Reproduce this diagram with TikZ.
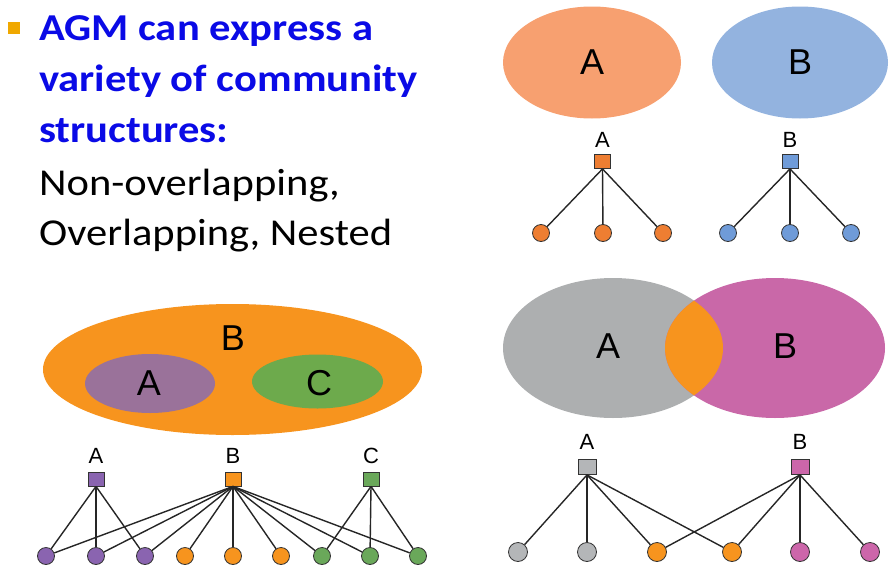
\documentclass[tikz,border=0pt]{standalone}
\usepackage{fontspec}
\setmainfont{Carlito}
\newfontfamily\lab{Liberation Sans}
\definecolor{txtblue}{HTML}{0A0AE6}
\definecolor{bullet}{HTML}{F0A800}
\definecolor{salmon}{HTML}{F7A070}
\definecolor{lblue}{HTML}{93B3DF}
\definecolor{nodeor}{HTML}{EE7E32}
\definecolor{nodebl}{HTML}{6F9BD8}
\definecolor{bigor}{HTML}{F7941E}
\definecolor{mauve}{HTML}{9A729A}
\definecolor{lgreen}{HTML}{6DAA4C}
\definecolor{npurple}{HTML}{8A64B0}
\definecolor{ngreen}{HTML}{6AA85A}
\definecolor{lgray}{HTML}{ADAFB0}
\definecolor{magenta}{HTML}{C968A8}
\definecolor{ngray}{HTML}{B4B6B8}
\definecolor{nmag}{HTML}{CC66AA}
\newcommand{\wide}[1]{\scalebox{1.12}[1]{#1}}
\begin{document}
\begin{tikzpicture}[x=1pt,y=-1pt,
  sq/.style={draw=black!80,line width=0.8pt,minimum width=16pt,minimum height=14pt,inner sep=0pt,fill=#1},
  cir/.style={circle,draw=black!80,line width=0.8pt,minimum size=17pt,inner sep=0pt,fill=#1},
  edge/.style={line width=1.4pt,black!85},
  small/.style={font=\lab\fontsize{22}{22}\selectfont},
  big/.style={font=\lab\fontsize{36}{36}\selectfont},
  bl/.style={anchor=base west,inner sep=0pt,text=txtblue,font=\bfseries\fontsize{38}{38}\selectfont},
  nl/.style={anchor=base west,inner sep=0pt,font=\fontsize{38}{38}\selectfont}]
\useasboundingbox (0,0) rectangle (889,565);
% text
\fill[bullet] (8,22) rectangle (20,34);
\node[bl] (t1) at (39,40) {\wide{AGM can express a}};
\node[bl] (t2) at (39,91) {\wide{variety of community}};
\node[bl] (t3) at (39,142) {\wide{structures:}};
\node[nl] (t4) at (39,195) {\wide{Non-overlapping,}};
\node[nl] (t5) at (39,245) {\wide{Overlapping, Nested}};
% top right ellipses
\fill[salmon] (592,62.5) ellipse [x radius=89,y radius=56];
\fill[lblue] (800,62.5) ellipse [x radius=88,y radius=56];
\node[big] (eA) at (592,62) {A};
\node[big] (eB) at (800,62) {B};
% top right graph
\node[sq=nodeor] (qA) at (602.5,161.5) {};
\node[sq=nodebl] (qB) at (790,161.5) {};
\node[small] (lA) at (602.5,140) {A};
\node[small] (lB) at (790,140) {B};
\node[cir=nodeor] (a1) at (541,233) {};
\node[cir=nodeor] (a2) at (603,233) {};
\node[cir=nodeor] (a3) at (663,233) {};
\node[cir=nodebl] (b1) at (728,233) {};
\node[cir=nodebl] (b2) at (790,233) {};
\node[cir=nodebl] (b3) at (851,233) {};
\foreach \n in {a1,a2,a3} \draw[edge] (qA.south) -- (\n);
\foreach \n in {b1,b2,b3} \draw[edge] (qB.south) -- (\n);
% bottom left nested
\fill[bigor] (232.5,369.5) ellipse [x radius=189.5,y radius=65.5];
\fill[mauve] (150,383.5) ellipse [x radius=65,y radius=29.5];
\fill[lgreen] (317.5,381.5) ellipse [x radius=65.5,y radius=27];
\node[big] (nB) at (233,338) {B};
\node[big] (nA) at (149,383) {A};
\node[big] (nC) at (319,383) {C};
\node[sq=npurple] (pA) at (96,479) {};
\node[sq=bigor] (pB) at (233,479) {};
\node[sq=ngreen] (pC) at (371,479) {};
\node[small] (mA) at (96,456) {A};
\node[small] (mB) at (233,456) {B};
\node[small] (mC) at (371,456) {C};
\node[cir=npurple] (c1) at (46,556) {};
\node[cir=npurple] (c2) at (96,556) {};
\node[cir=npurple] (c3) at (145,556) {};
\node[cir=bigor] (c4) at (185,556) {};
\node[cir=bigor] (c5) at (233,556) {};
\node[cir=bigor] (c6) at (281,556) {};
\node[cir=ngreen] (c7) at (322,556) {};
\node[cir=ngreen] (c8) at (370,556) {};
\node[cir=ngreen] (c9) at (418,556) {};
\foreach \n in {c1,c2,c3} \draw[edge] (pA.south) -- (\n);
\foreach \n in {c1,c2,c3,c4,c5,c6,c7,c8,c9} \draw[edge] (pB.south) -- (\n);
\foreach \n in {c7,c8,c9} \draw[edge] (pC.south) -- (\n);
% bottom right overlapping
\fill[lgray] (613,348) ellipse [x radius=110,y radius=70];
\fill[magenta] (775,348) ellipse [x radius=110,y radius=70];
\begin{scope}
\clip (613,348) ellipse [x radius=110,y radius=70];
\fill[bigor] (775,348) ellipse [x radius=110,y radius=70];
\end{scope}
\node[big] (oA) at (608,346) {A};
\node[big] (oB) at (785,346) {B};
\node[sq=ngray,minimum width=18pt,minimum height=15pt] (rA) at (587,467) {};
\node[sq=nmag,minimum width=18pt,minimum height=15pt] (rB) at (800,467) {};
\node[small] (kA) at (587,442) {A};
\node[small] (kB) at (800,442) {B};
\node[cir=ngray,minimum size=19pt] (d1) at (518,552) {};
\node[cir=ngray,minimum size=19pt] (d2) at (587,552) {};
\node[cir=bigor,minimum size=19pt] (d3) at (657,552) {};
\node[cir=bigor,minimum size=19pt] (d4) at (732,552) {};
\node[cir=nmag,minimum size=19pt] (d5) at (800,552) {};
\node[cir=nmag,minimum size=19pt] (d6) at (870,552) {};
\foreach \n in {d1,d2,d3,d4} \draw[edge] (rA.south) -- (\n);
\foreach \n in {d3,d4,d5,d6} \draw[edge] (rB.south) -- (\n);
\end{tikzpicture}
\end{document}
